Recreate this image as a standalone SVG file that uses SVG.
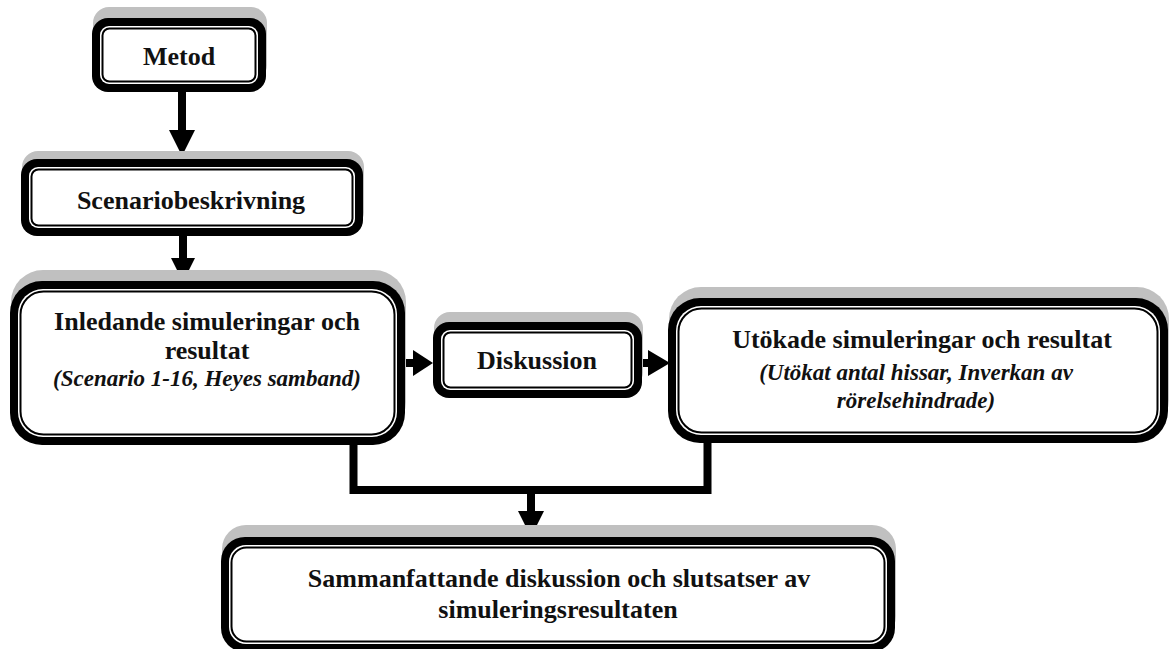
<svg xmlns="http://www.w3.org/2000/svg" width="1170" height="649" viewBox="0 0 1170 649">
<style>
.sh{fill:#c0c0c0}
.ob{fill:#000}
.wb{fill:#fff}
.il{fill:#fff;stroke:#000;stroke-width:2}
.t{font-family:"Liberation Serif","Times New Roman",serif;font-weight:bold;font-size:26px;fill:#111;text-anchor:middle}
.i{font-style:italic;font-size:23px}
.c{fill:none;stroke:#000;stroke-width:8;stroke-linejoin:miter;stroke-linecap:butt}
.ah{fill:#000}
</style>
<rect width="1170" height="649" fill="#fff"/>
<g id="connectors">
<line class="c" x1="182" y1="92" x2="182" y2="132"/>
<polygon class="ah" points="169,130 195,130 182,156"/>
<line class="c" x1="183" y1="236" x2="183" y2="260"/>
<polygon class="ah" points="171,258 195,258 183,282"/>
<line class="c" x1="405" y1="363" x2="415" y2="363"/>
<polygon class="ah" points="413,350 413,376 433,363"/>
<line class="c" x1="642" y1="363" x2="650" y2="363"/>
<polygon class="ah" points="648,350 648,376 670,363"/>
<path class="c" d="M353.5,440 V490 H707.5 V440"/>
<line class="c" x1="531" y1="490" x2="531" y2="513"/>
<polygon class="ah" points="518,511 544,511 531,537"/>
</g>
<g id="metod">
<rect class="sh" x="93" y="7" width="174" height="74" rx="16"/>
<rect class="ob" x="92" y="18" width="174" height="74" rx="16"/>
<rect class="wb" x="100" y="26" width="158" height="58" rx="9"/>
<rect class="il" x="102.5" y="28.5" width="153" height="53" rx="7"/>
<text class="t" x="179" y="65">Metod</text>
</g>
<g id="scenario">
<rect class="sh" x="22" y="151" width="342" height="77" rx="16"/>
<rect class="ob" x="21" y="159" width="342" height="77" rx="16"/>
<rect class="wb" x="29" y="167" width="326" height="61" rx="9"/>
<rect class="il" x="31.5" y="169.5" width="321" height="56" rx="7"/>
<text class="t" x="191" y="209">Scenariobeskrivning</text>
</g>
<g id="inledande">
<rect class="sh" x="11" y="270" width="395" height="164" rx="32"/>
<rect class="ob" x="10" y="281" width="395" height="164" rx="32"/>
<rect class="wb" x="18" y="289" width="379" height="148" rx="25"/>
<rect class="il" x="20.5" y="291.5" width="374" height="143" rx="23"/>
<text class="t" x="207" y="330">Inledande simuleringar och</text>
<text class="t" x="207" y="359">resultat</text>
<text class="t i" x="207" y="386">(Scenario 1-16, Heyes samband)</text>
</g>
<g id="diskussion">
<rect class="sh" x="434" y="312" width="209" height="76" rx="16"/>
<rect class="ob" x="433" y="322" width="209" height="76" rx="16"/>
<rect class="wb" x="441" y="330" width="193" height="60" rx="9"/>
<rect class="il" x="443.5" y="332.5" width="188" height="55" rx="7"/>
<text class="t" x="537" y="369">Diskussion</text>
</g>
<g id="utokade">
<rect class="sh" x="669" y="287" width="500" height="145" rx="32"/>
<rect class="ob" x="668" y="298" width="500" height="145" rx="32"/>
<rect class="wb" x="676" y="306" width="484" height="129" rx="25"/>
<rect class="il" x="678.5" y="308.5" width="479" height="124" rx="23"/>
<text class="t" x="922" y="348">Utökade simuleringar och resultat</text>
<text class="t i" x="916" y="380">(Utökat antal hissar, Inverkan av</text>
<text class="t i" x="916" y="408">rörelsehindrade)</text>
</g>
<g id="sammanfattande">
<rect class="sh" x="222" y="525" width="674" height="115" rx="24"/>
<rect class="ob" x="221" y="537" width="674" height="115" rx="24"/>
<rect class="wb" x="229" y="545" width="658" height="99" rx="17"/>
<rect class="il" x="231.5" y="547.5" width="653" height="94" rx="15"/>
<text class="t" x="559" y="587">Sammanfattande diskussion och slutsatser av</text>
<text class="t" x="558" y="618">simuleringsresultaten</text>
</g>
</svg>
